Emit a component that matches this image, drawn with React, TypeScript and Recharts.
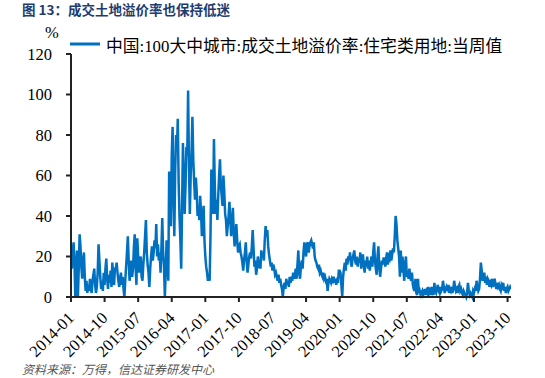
import React from 'react';
import { LineChart, Line, XAxis, YAxis } from 'recharts';

// Weekly values (%), one array per year
const v2014 = [20,14,22,27,18,0,12,23,0,14, 31,25,15,9,18,22,10,3,8,2, 6,3,9,4,2,8,11,14,6,2, 5,12,26,18,10,4,8,3,12,6, 14,19,9,4,11,7,13,5,17,10, 6,14];
const v2015 = [14,17,12,8,5,9,12,6,10,4, 0,8,15,22,30,18,8,12,18,10, 14,24,31,15,6,29,20,12,18,20, 10,8,16,22,30,38,22,16,12,5, 14,20,25,18,22,28,24,36,20,26, 18,22];
const v2016 = [12,24,39,22,15,0,12,28,20,8, 62,48,35,70,84,50,30,62,80,72, 88,57,40,28,14,45,76,60,41,55, 74,70,102,65,41,60,72,89,68,57, 48,59,52,40,45,38,50,42,30,38, 45,28];
const v2017 = [20,15,12,8,10,8,30,63,50,41, 78,55,41,48,38,50,60,68,55,50, 45,60,52,41,38,30,35,40,47,38, 30,36,44,32,25,30,36,28,22,25, 26,22,20,17,13,18,22,27,18,12, 16,20];
const v2018 = [22,19,25,33,24,15,18,11,14,20, 16,17,14,23,20,22,18,28,35,30, 33,25,21,18,15,17,13,16,14,11, 12,10,8,11,7,9,6,4,0,5, 7,4,9,6,8,5,10,7,10,8, 12,9];
const v2019 = [11,14,9,16,23,12,9,15,18,14, 22,27,24,20,26,27,22,25,27,28, 26,24,27,20,18,17,15,14,16,12, 13,11,10,12,9,10,8,9,3,7, 9,8,7,9,8,10,7,9,6,8, 7,13];
const v2020 = [13,12,6,0,10,14,17,13,19,16, 20,18,22,17,15,19,21,23,18,16, 20,15,19,17,22,14,18,21,16,12, 18,15,20,14,18,13,17,20,15,22, 27,18,14,11,20,25,15,10,14,18, 16,19];
const v2021 = [19,15,19,22,16,20,19,23,18,21, 24,22,30,40,36,28,24,20,10,23, 12,20,14,8,16,20,10,13,9,14, 10,8,12,6,4,3,9,2,1,9, 2,3,1,2,3,1,2,4,1,3, 2,5];
const v2022 = [2,3,1,5,2,1,7,3,2,4, 6,3,2,5,3,4,8,5,2,4, 5,3,6,2,4,3,5,2,4,8, 5,3,4,2,5,6,3,4,2,1, 3,2,1,0,2,7,3,1,2,1, 0,3];
const v2023 = [2,4,3,8,5,3,4,9,17,13, 8,10,12,7,10,6,9,8,5,7, 6,9,5,7,9,6,4,7,5,6, 4,3,6,5,7,3,5,2,4,5, 3,4,5,4];

const yearSeries = [v2014, v2015, v2016, v2017, v2018, v2019, v2020, v2021, v2022, v2023];

// x ticks: months since 2014-01
const xTickMonths = [0, 9, 18, 27, 36, 45, 54, 63, 72, 81, 90, 99, 108, 117];
const xTickLabels = ['2014-01', '2014-10', '2015-07', '2016-04', '2017-01', '2017-10', '2018-07', '2019-04', '2020-01', '2020-10', '2021-07', '2022-04', '2023-01', '2023-10'];
const yTicks = [0, 20, 40, 60, 80, 100, 120];

const seriesName = '中国:100大中城市:成交土地溢价率:住宅类用地:当周值';
const titleText = '图 13：成交土地溢价率也保持低迷';
const sourceText = '资料来源：万得，信达证券研发中心';

const data = yearSeries.flatMap((vals, k) =>
  vals.map((v, w) => ({ t: 12 * k + (w * 12) / 52, v }))
);
const lastT = data[data.length - 1].t;

const BLUE = '#0070C0';
const AXIS = '#222';
const SERIF = 'Liberation Serif, DejaVu Serif, Noto Sans CJK SC, serif';

const XTick = (props: any) => {
  const { x, y, payload } = props;
  const idx = xTickMonths.indexOf(payload.value);
  const label = idx >= 0 ? xTickLabels[idx] : '';
  return (
    <g transform={`translate(${x + 4},${y + 15}) rotate(-45)`}>
      <text x={0} y={0} textAnchor="end" fontFamily={SERIF} fontSize={16.5} fill="#000">
        {label}
      </text>
    </g>
  );
};

export default function App() {
  return (
    <div style={{ position: 'absolute', left: 0, top: 0, width: 545, height: 378, background: '#fff', overflow: 'hidden' }}>
      <LineChart
        width={545}
        height={378}
        data={data}
        margin={{ top: 54, right: 34, bottom: 21, left: 0 }}
      >
        <XAxis
          dataKey="t"
          type="number"
          domain={[0, lastT]}
          ticks={xTickMonths}
          interval={0}
          tick={<XTick />}
          tickSize={5}
          height={60}
          axisLine={{ stroke: AXIS, strokeWidth: 2 }}
          tickLine={{ stroke: AXIS, strokeWidth: 2 }}
          allowDataOverflow
        />
        <YAxis
          type="number"
          domain={[0, 120]}
          ticks={yTicks}
          interval={0}
          width={71}
          tickSize={5}
          tickMargin={14}
          tick={{ fontFamily: SERIF, fontSize: 16.5, fill: '#000' }}
          axisLine={{ stroke: AXIS, strokeWidth: 2 }}
          tickLine={{ stroke: AXIS, strokeWidth: 2 }}
        />
        <Line
          type="linear"
          dataKey="v"
          stroke={BLUE}
          strokeWidth={2.5}
          dot={false}
          activeDot={false}
          isAnimationActive={false}
        />
      </LineChart>
      <svg width={545} height={378} style={{ position: 'absolute', left: 0, top: 0, pointerEvents: 'none' }}>
        <text x={22} y={15} fontFamily="Noto Sans CJK SC" fontWeight="bold" fontSize={13.5} fill="#1F3C70">
          {titleText}
        </text>
        <text x={45} y={38} fontFamily={SERIF} fontSize={16.5} fill="#000">%</text>
        <line x1={70} y1={44} x2={100} y2={44} stroke={BLUE} strokeWidth={3} />
        <text x={106} y={52} fontFamily={SERIF} fontSize={16.8} fill="#000">
          {seriesName}
        </text>
        <text x={22} y={374} fontFamily="Noto Sans CJK SC" fontStyle="italic" fontSize={12} fill="#555">
          {sourceText}
        </text>
      </svg>
    </div>
  );
}
